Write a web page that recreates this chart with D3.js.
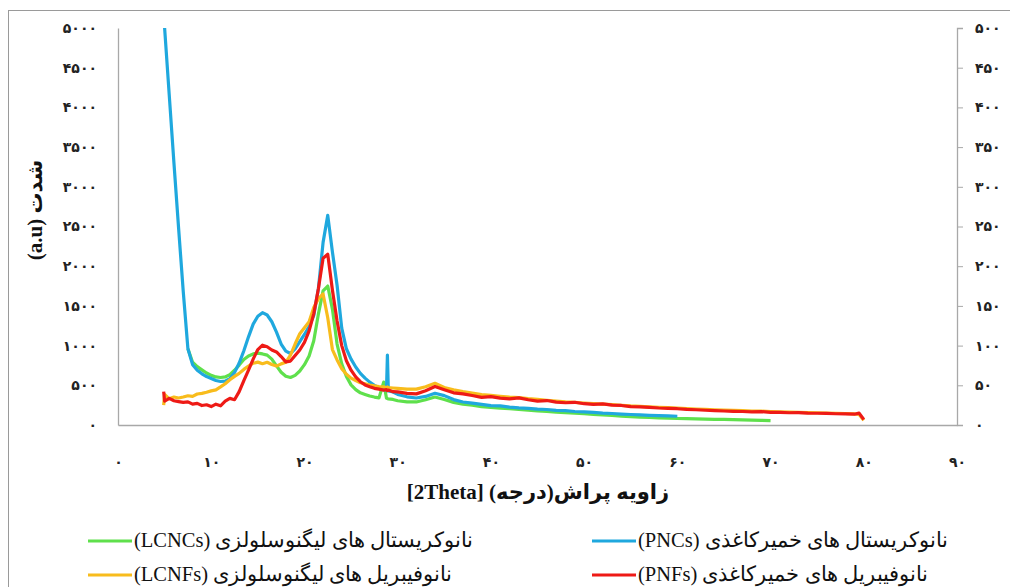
<!DOCTYPE html>
<html>
<head>
<meta charset="utf-8">
<script src="https://cdn.jsdelivr.net/npm/d3@7"></script>
<style>
    body { margin: 0; background: #fff; }
    svg { display: block; }
    .tick-label { font-family: 'DejaVu Sans', sans-serif; font-weight: bold; font-size: 14px; fill: #222; }
    .axis-title { font-family: 'Liberation Serif', 'DejaVu Sans', serif; font-weight: bold; font-size: 21px; fill: #111; }
    .legend-text { font-family: 'Liberation Serif', 'DejaVu Serif', serif; font-size: 20.5px; fill: #111; }
</style>
</head>
<body>
<svg id="chart" width="1010" height="587"></svg>
<script>
// 2Theta grid shared by all four patterns
const twoTheta = [
    4.9, 5, 5.5, 6, 6.5, 7, 7.5, 8, 8.5, 9,
    9.5, 10, 10.5, 11, 11.5, 12, 12.5, 13, 13.5, 14,
    14.5, 15, 15.5, 16, 16.5, 17, 17.5, 18, 18.5, 19,
    19.5, 20, 20.5, 21, 21.5, 22, 22.5, 23, 23.5, 24,
    24.5, 25, 25.5, 26, 26.5, 27, 27.5, 28, 28.5, 28.8,
    28.9, 29, 29.5, 30, 31, 32, 33, 34, 35, 36,
    37, 38, 39, 40, 41, 42, 43, 44, 45, 46,
    47, 48, 49, 50, 51, 52, 53, 54, 55, 56,
    57, 58, 59, 60, 61, 62, 63, 64, 65, 66,
    67, 68, 69, 70, 71, 72, 73, 74, 75, 76,
    77, 78, 79, 79.5, 80
];

const pncs = [
    null, 5000, 4150, 3300, 2480, 1680, 960, 760, 690, 645,
    610, 585, 560, 548, 552, 585, 660, 780, 935, 1110,
    1270, 1370, 1415, 1385, 1300, 1170, 1020, 930, 900, 960,
    1050, 1140, 1240, 1380, 1720, 2300, 2640, 2180, 1760, 1220,
    960, 830, 730, 650, 590, 540, 500, 470, 445, 440,
    880, 430, 415, 385, 355, 340, 360, 400, 370, 320,
    290, 275, 260, 245, 240, 225, 215, 210, 200, 195,
    185, 180, 170, 165, 158, 150, 145, 138, 132, 128,
    122, 118, 114, 110, null, null, null, null, null, null,
    null, null, null, null, null, null, null, null, null, null,
    null, null, null, null, null
];

const lcncs = [
    null, null, null, null, null, null, 960, 790, 735, 695,
    655, 625, 605, 598, 605, 635, 690, 755, 825, 870,
    895, 905, 895, 880, 830, 745, 665, 615, 598, 625,
    680, 760, 870, 1060, 1400, 1690, 1750, 1460, 1020, 770,
    610, 505, 445, 405, 385, 365, 352, 342, 540, 338,
    332, 330, 322, 305, 292, 290, 318, 352, 322, 285,
    262, 250, 232, 222, 212, 205, 195, 188, 178, 170,
    162, 156, 150, 142, 135, 128, 120, 112, 106, 100,
    95, 90, 86, 82, 80, 78, 75, 72, 70, 68,
    65, 62, 58, 55, null, null, null, null, null, null,
    null, null, null, null, null
];

const pnfs = [
    420, 300, 335, 305, 295, 285, 292, 262, 272, 245,
    255, 232, 262, 242, 300, 335, 318, 420, 560, 690,
    830, 950, 1005, 985, 945, 920, 862, 795, 805, 875,
    945, 1040, 1185, 1400, 1720, 2100, 2150, 1700, 1310, 1000,
    810, 690, 605, 545, 505, 482, 462, 452, 440, 445,
    432, 440, 420, 418, 398, 392, 432, 485, 445, 405,
    392, 372, 348, 358, 338, 330, 342, 318, 300, 308,
    288, 280, 286, 268, 260, 266, 250, 246, 232, 228,
    222, 214, 210, 205, 196, 192, 186, 182, 176, 172,
    170, 166, 168, 160, 158, 154, 156, 150, 148, 146,
    142, 140, 136, 150, 70
];

const lcnfs = [
    250, 385, 330, 352, 340, 352, 368, 360, 390, 398,
    412, 430, 442, 480, 520, 570, 612, 650, 700, 742,
    778, 792, 772, 790, 762, 742, 770, 790, 880, 1020,
    1150, 1225, 1300, 1480, 1590, 1650, 1350, 950, 820, 710,
    640, 590, 560, 532, 520, 502, 492, 485, 480, 470,
    480, 470, 466, 462, 452, 452, 482, 525, 472, 442,
    420, 402, 382, 372, 362, 352, 345, 332, 322, 312,
    302, 292, 286, 276, 268, 262, 256, 248, 240, 235,
    228, 222, 218, 214, 206, 200, 196, 192, 188, 184,
    180, 176, 174, 170, 166, 162, 160, 156, 154, 150,
    148, 145, 140, 132, 60
];

const xTicks = [0, 10, 20, 30, 40, 50, 60, 70, 80, 90];
const yTicks = [0, 500, 1000, 1500, 2000, 2500, 3000, 3500, 4000, 4500, 5000];
const y2Ticks = [0, 50, 100, 150, 200, 250, 300, 350, 400, 450, 500];

// draw order matters: red ends up on top
const seriesList = [
    { key: 'lcncs', values: lcncs, color: '#5FE04C', label: '(LCNCs) نانوکریستال های لیگنوسلولزی' },
    { key: 'pncs', values: pncs, color: '#1FA8DE', label: '(PNCs) نانوکریستال های خمیرکاغذی' },
    { key: 'lcnfs', values: lcnfs, color: '#F8BC1C', label: '(LCNFs) نانوفیبریل های لیگنوسلولزی' },
    { key: 'pnfs', values: pnfs, color: '#EE1A16', label: '(PNFs) نانوفیبریل های خمیرکاغذی' },
];

const margin = { left: 118, right: 1010 - 957, top: 28, bottom: 587 - 425 };
const width = 1010, height = 587;

const toPersian = (n) => String(n).replace(/\d/g, (d) => '۰۱۲۳۴۵۶۷۸۹'[+d]);

const svg = d3.select('#chart');

// outer frame of the figure
svg.append('rect')
    .attr('x', 8.5).attr('y', 10.5)
    .attr('width', 1020).attr('height', 600)
    .attr('fill', 'none')
    .attr('stroke', '#9a9a9a')
    .attr('stroke-width', 1);

const x = d3.scaleLinear().domain([0, 90]).range([margin.left, width - margin.right]);
const y = d3.scaleLinear().domain([0, 5000]).range([height - margin.bottom, margin.top]);
const y2 = d3.scaleLinear().domain([0, 500]).range([height - margin.bottom, margin.top]);

// axes
const xAxis = svg.append('g')
    .attr('transform', `translate(0,${y(0)})`)
    .call(d3.axisBottom(x).tickValues(xTicks).tickSize(0).tickFormat(toPersian));
xAxis.select('.domain').attr('stroke', '#a8a8a8').attr('stroke-width', 1.3);
xAxis.selectAll('.tick text')
    .attr('class', 'tick-label')
    .attr('dy', 0)
    .attr('y', 42);

const yAxis = svg.append('g')
    .attr('transform', `translate(${x(0)},0)`)
    .call(d3.axisLeft(y).tickValues(yTicks).tickSize(0).tickFormat(toPersian));
yAxis.select('.domain').attr('stroke', '#a8a8a8').attr('stroke-width', 1.3);
yAxis.selectAll('.tick text')
    .attr('class', 'tick-label')
    .attr('x', -21);

const y2Axis = svg.append('g')
    .attr('transform', `translate(${x(90)},0)`)
    .call(d3.axisRight(y2).tickValues(y2Ticks).tickSize(6).tickFormat(toPersian));
y2Axis.select('.domain').attr('stroke', '#a8a8a8').attr('stroke-width', 1.3);
y2Axis.selectAll('.tick line').attr('stroke', '#a8a8a8');
y2Axis.selectAll('.tick text')
    .attr('class', 'tick-label')
    .attr('x', 18);

// clip the traces to the plotting area
svg.append('clipPath').attr('id', 'plot-clip')
    .append('rect')
    .attr('x', x(0)).attr('y', y(5000) - 1)
    .attr('width', x(90) - x(0)).attr('height', y(0) - y(5000) + 1);

const line = d3.line()
    .defined((d) => d[1] !== null)
    .x((d) => x(d[0]))
    .y((d) => y(d[1]));

const traces = svg.append('g').attr('clip-path', 'url(#plot-clip)');
seriesList.forEach((s) => {
    traces.append('path')
        .datum(twoTheta.map((t, i) => [t, s.values[i]]))
        .attr('fill', 'none')
        .attr('stroke', s.color)
        .attr('stroke-width', 3.2)
        .attr('stroke-linejoin', 'round')
        .attr('d', line);
});

// axis titles
svg.append('text')
    .attr('class', 'axis-title')
    .attr('x', 538).attr('y', 499)
    .attr('text-anchor', 'middle')
    .text('[2Theta] \u2067زاویه پراش(درجه)\u2069');

svg.append('text')
    .attr('class', 'axis-title')
    .attr('transform', 'translate(42,210) rotate(-90)')
    .attr('text-anchor', 'middle')
    .text('(a.u) شدت');

// legend, two columns
const legendPos = {
    lcncs: [88, 541], pncs: [592, 541],
    lcnfs: [88, 575], pnfs: [592, 575],
};
const legend = svg.append('g');
seriesList.forEach((s) => {
    const [lx, ly] = legendPos[s.key];
    legend.append('line')
        .attr('x1', lx).attr('x2', lx + 44)
        .attr('y1', ly).attr('y2', ly)
        .attr('stroke', s.color)
        .attr('stroke-width', 3);
    legend.append('text')
        .attr('class', 'legend-text')
        .attr('x', lx + 46).attr('y', ly + 6)
        .text(s.label);
});
</script>
</body>
</html>
